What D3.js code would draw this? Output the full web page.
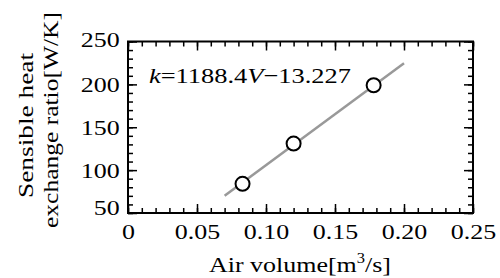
<!DOCTYPE html>
<html>
<head>
<meta charset="utf-8">
<script src="https://cdn.jsdelivr.net/npm/d3@7"></script>
<style>
  body { margin: 0; background: #fff; }
  text { font-family: "Liberation Serif", "Times New Roman", serif; fill: #000; }
</style>
</head>
<body>
<svg width="500" height="278"></svg>
<script>
// data
var airVolume = [0.083, 0.120, 0.178];
var heatRatio = [84, 131, 199];
var fitV = [0.070, 0.200];
var fitK = [70.0, 224.5];
var xTicks = [0, 0.05, 0.10, 0.15, 0.20, 0.25];
var xTickLabels = ["0", "0.05", "0.10", "0.15", "0.20", "0.25"];
var yTicks = [50, 100, 150, 200, 250];
var xMinor = d3.range(0, 26).map(function(i) { return i / 100; });
var yMinor = d3.range(50, 251, 10);

var svg = d3.select("svg"),
    pLeft = 128, pRight = 473, pTop = 41.5, pBottom = 213,
    sx = 1.18; // text in the picture is drawn a bit wide

var x = d3.scaleLinear().domain([0, 0.25]).range([pLeft, pRight]),
    y = d3.scaleLinear().domain([50, 250]).range([pBottom, pTop]);

function tidy(g) {
    g.select(".domain").remove();
    g.selectAll("line").attr("stroke", "#000").attr("stroke-width", 1.5);
    g.selectAll("text").attr("font-size", 22).attr("fill", "#000")
        .attr("font-family", null);
}

// minor ticks, all four sides, pointing inward
svg.append("g").attr("transform", "translate(0," + pBottom + ")")
    .call(d3.axisBottom(x).tickValues(xMinor).tickSize(-5).tickFormat("")).call(tidy);
svg.append("g").attr("transform", "translate(0," + pTop + ")")
    .call(d3.axisTop(x).tickValues(xMinor).tickSize(-5).tickFormat("")).call(tidy);
svg.append("g").attr("transform", "translate(" + pLeft + ",0)")
    .call(d3.axisLeft(y).tickValues(yMinor).tickSize(-5).tickFormat("")).call(tidy);
svg.append("g").attr("transform", "translate(" + pRight + ",0)")
    .call(d3.axisRight(y).tickValues(yMinor).tickSize(-5).tickFormat("")).call(tidy);

// major ticks
var xb = svg.append("g").attr("transform", "translate(0," + pBottom + ")")
    .call(d3.axisBottom(x).tickValues(xTicks).tickSize(-9).tickPadding(10)
        .tickFormat(function(d, i) { return xTickLabels[i]; }))
    .call(tidy);
xb.selectAll("text").attr("transform", "scale(" + sx + ",1)");
svg.append("g").attr("transform", "translate(0," + pTop + ")")
    .call(d3.axisTop(x).tickValues(xTicks).tickSize(-9).tickFormat("")).call(tidy);
var yl = svg.append("g").attr("transform", "translate(" + pLeft + ",0)")
    .call(d3.axisLeft(y).tickValues(yTicks).tickSize(-9).tickPadding(7)
        .tickFormat(d3.format("d")))
    .call(tidy);
yl.selectAll("text").attr("transform", function(d) {
    var up = d === 50 ? -6 : (d === 250 ? -2.5 : 0);
    return "translate(0," + up + ") scale(" + sx + ",1)";
});
svg.append("g").attr("transform", "translate(" + pRight + ",0)")
    .call(d3.axisRight(y).tickValues(yTicks).tickSize(-9).tickFormat("")).call(tidy);

// frame
svg.append("rect")
    .attr("x", pLeft).attr("y", pTop)
    .attr("width", pRight - pLeft).attr("height", pBottom - pTop)
    .attr("fill", "none").attr("stroke", "#000").attr("stroke-width", 2);

// fitted line
var line = d3.line()
    .x(function(d) { return x(d[0]); })
    .y(function(d) { return y(d[1]); });
svg.append("path")
    .datum(d3.zip(fitV, fitK))
    .attr("d", line)
    .attr("fill", "none").attr("stroke", "#999").attr("stroke-width", 2.5);

// measured points
svg.selectAll(".pt")
    .data(d3.zip(airVolume, heatRatio))
    .enter().append("circle")
    .attr("class", "pt")
    .attr("cx", function(d) { return x(d[0]); })
    .attr("cy", function(d) { return y(d[1]); })
    .attr("r", 7)
    .attr("fill", "#fff").attr("stroke", "#000").attr("stroke-width", 2);

// equation
var eq = svg.append("text")
    .attr("x", 149).attr("y", 82.5)
    .attr("textLength", 202).attr("lengthAdjust", "spacingAndGlyphs")
    .attr("font-size", 22);
eq.append("tspan").attr("font-style", "italic").text("k");
eq.append("tspan").text("=1188.4");
eq.append("tspan").attr("font-style", "italic").text("V");
eq.append("tspan").text("\u221213.227");

// axis titles
var xt = svg.append("text")
    .attr("transform", "translate(300,272) scale(" + sx + ",1)")
    .attr("text-anchor", "middle")
    .attr("font-size", 22);
xt.append("tspan").text("Air volume[m");
xt.append("tspan").attr("font-size", 14).attr("dy", -9).text("3");
xt.append("tspan").attr("dy", 9).text("/s]");

svg.append("text")
    .attr("transform", "translate(33,125.5) rotate(-90)")
    .attr("text-anchor", "middle")
    .attr("textLength", 145).attr("lengthAdjust", "spacingAndGlyphs")
    .attr("font-size", 22)
    .text("Sensible heat");
svg.append("text")
    .attr("transform", "translate(58,120) rotate(-90)")
    .attr("text-anchor", "middle")
    .attr("textLength", 216).attr("lengthAdjust", "spacingAndGlyphs")
    .attr("font-size", 22)
    .text("exchange ratio[W/K]");
</script>
</body>
</html>
